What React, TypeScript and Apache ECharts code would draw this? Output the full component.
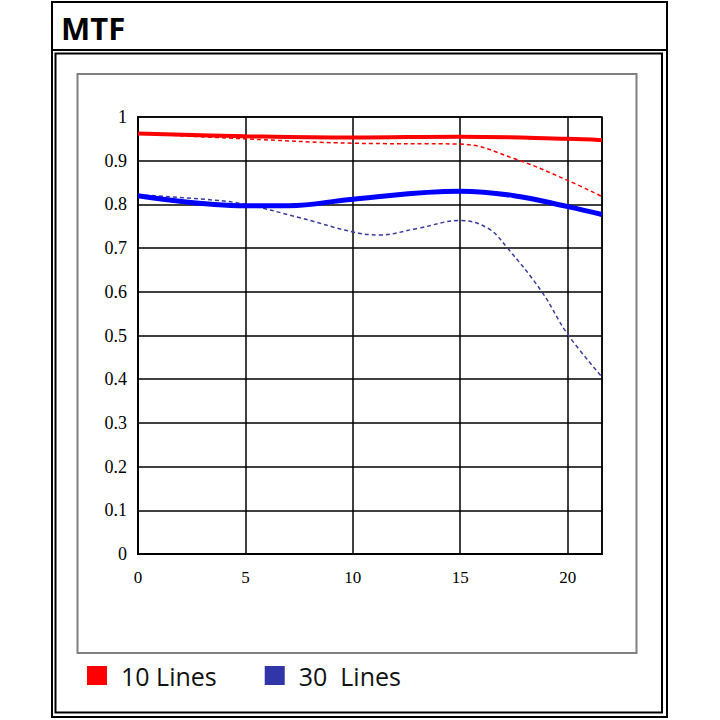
import React, { useEffect, useRef } from 'react';
import * as echarts from 'echarts';

// Image height (mm) vs MTF contrast
const xMax = 21.6;
const lines10Sagittal: [number, number][] = [
  [0, 0.962], [5, 0.956], [10, 0.953], [15, 0.955], [20, 0.95], [21.6, 0.947],
];
const lines10Meridional: [number, number][] = [
  [0, 0.962], [5, 0.95], [10, 0.94], [15, 0.938], [17.5, 0.905], [20, 0.855], [21.6, 0.818],
];
const lines30Sagittal: [number, number][] = [
  [0, 0.82], [5, 0.797], [7, 0.797], [10, 0.812], [15, 0.83], [17.5, 0.82], [20, 0.795], [21.6, 0.777],
];
const lines30Meridional: [number, number][] = [
  [0, 0.822], [3.5, 0.81], [5, 0.8], [7.5, 0.77], [10, 0.737], [11.2, 0.73], [13, 0.745],
  [15, 0.763], [16.3, 0.745], [17.2, 0.7], [18.8, 0.6], [20, 0.503], [21.6, 0.405],
];
const legendNames = ['10 Lines', '30  Lines'];
const titleText = 'MTF';

export default function App() {
  const ref = useRef<HTMLDivElement>(null);
  useEffect(() => {
    if (!ref.current) return;
    const chart = echarts.init(ref.current, undefined, { renderer: 'svg' });
    const red = '#ff0000';
    const blue = '#0000ff';
    const navy = '#3a3a9e';
    chart.setOption({
      animation: false,
      backgroundColor: '#ffffff',
      graphic: [
        { type: 'rect', shape: { x: 52, y: 2, width: 615, height: 715 }, style: { fill: 'none', stroke: '#000', lineWidth: 2 } },
        { type: 'line', shape: { x1: 52, y1: 50, x2: 667, y2: 50 }, style: { stroke: '#000', lineWidth: 2 } },
        { type: 'rect', shape: { x: 55.5, y: 53.5, width: 606.5, height: 659 }, style: { fill: 'none', stroke: '#000', lineWidth: 2 } },
        { type: 'rect', shape: { x: 77.5, y: 74, width: 559, height: 579 }, style: { fill: 'none', stroke: '#808080', lineWidth: 2 } },
        {
          type: 'text', x: 61, y: 28,
          style: { text: titleText, fill: '#000', font: 'bold 31px "Open Sans"', verticalAlign: 'middle' },
        },
      ],
      legend: {
        left: 87, top: 663, padding: 0,
        itemWidth: 20, itemHeight: 19, itemGap: 48,
        icon: 'rect',
        textStyle: { fontFamily: 'Open Sans', fontSize: 25, lineHeight: 20, color: '#111', padding: [0, 0, 0, 9] },
        data: [
          { name: legendNames[0], itemStyle: { color: red } },
          { name: legendNames[1], itemStyle: { color: '#3036a8' } },
        ],
        selectedMode: false,
      },
      grid: { left: 138, right: 118, top: 117, bottom: 166, show: true, borderColor: '#000', borderWidth: 1.5 },
      xAxis: {
        type: 'value', min: 0, max: xMax, interval: 5,
        axisLine: { show: true, lineStyle: { color: '#000', width: 2 } },
        axisTick: { show: false },
        splitLine: { show: true, lineStyle: { color: '#000', width: 1.5 } },
        axisLabel: { showMaxLabel: false, margin: 15, fontFamily: 'Liberation Serif', fontSize: 17, color: '#000' },
      },
      yAxis: {
        type: 'value', min: 0, max: 1, interval: 0.1,
        axisLine: { show: true, lineStyle: { color: '#000', width: 2 } },
        axisTick: { show: false },
        splitLine: { show: true, lineStyle: { color: '#000', width: 1.5 } },
        axisLabel: { margin: 11, fontFamily: 'Liberation Serif', fontSize: 18, color: '#000' },
      },
      series: [
        { name: legendNames[0], type: 'line', data: lines10Sagittal, smooth: 0.4, symbol: 'none', lineStyle: { color: red, width: 4 }, itemStyle: { color: red }, z: 4 },
        { name: legendNames[0], type: 'line', data: lines10Meridional, smooth: 0.4, symbol: 'none', lineStyle: { color: red, width: 1.5, type: [4, 3] }, itemStyle: { color: red }, z: 3 },
        { name: legendNames[1], type: 'line', data: lines30Sagittal, smooth: 0.4, symbol: 'none', lineStyle: { color: blue, width: 5 }, itemStyle: { color: blue }, z: 4 },
        { name: legendNames[1], type: 'line', data: lines30Meridional, smooth: 0.4, symbol: 'none', lineStyle: { color: navy, width: 1.5, type: [4, 3] }, itemStyle: { color: navy }, z: 3 },
      ],
    });
    return () => chart.dispose();
  }, []);
  return (
    <div
      ref={ref}
      style={{ position: 'fixed', left: 0, top: 0, width: 720, height: 720, background: '#fff' }}
    />
  );
}
